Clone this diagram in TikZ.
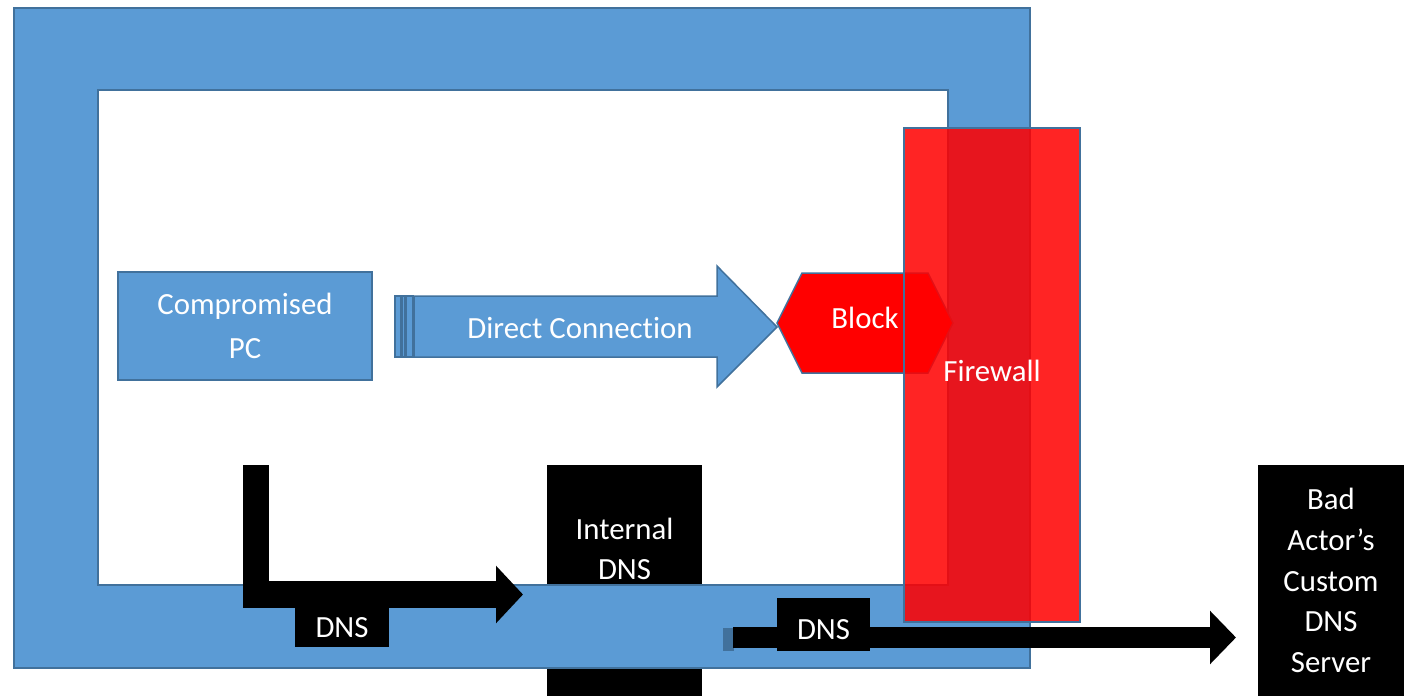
\documentclass[tikz,border=0pt]{standalone}
\usepackage{fontspec}
\setmainfont[Ligatures=NoCommon]{Carlito}
\usetikzlibrary{arrows.meta,calc,positioning}
\definecolor{netblue}{HTML}{5B9BD5}
\definecolor{netedge}{HTML}{41719C}
\begin{document}
\begin{tikzpicture}[x=0.5pt,y=-0.5pt,line join=miter]
      \useasboundingbox (0,0) rectangle (1404,696);

      \tikzstyle{lbl}=[text=white, font=\fontsize{15.4}{20}\selectfont, align=center, inner sep=0pt, outer sep=0pt];
      \tikzstyle{blackbox}=[fill=black, draw=none, inner sep=0pt, outer sep=0pt];
      \tikzstyle{bluepart}=[fill=netblue, draw=netedge, line width=0.75pt];
      \tikzstyle{dnsflow}=[draw=black, line cap=butt, line join=miter];

      % internal dns server, behind the network frame
      \node[blackbox, minimum width=77.5pt, minimum height=115.5pt] (intdns) at (624.5,580.5) {};

      % network frame
      \draw[bluepart, even odd rule] (14,8) rectangle (1030,668) (98,90) rectangle (948,585);

      \node[bluepart, lbl, minimum width=127pt, minimum height=54pt,
            font=\fontsize{15.4}{22}\selectfont] (pc) at (245,326) {Compromised\\PC};

      % direct connection arrow
      \draw[bluepart] (395,296) rectangle (401,357);
      \draw[bluepart] (402,296) rectangle (405,357);
      \draw[bluepart] (406,296) rectangle (413,357);
      \draw[bluepart] (414,296) -- (717,296) -- (717,266) -- (777,327) -- (717,387) -- (717,357) -- (414,357) -- cycle;
      \node[lbl] (direct) at (580,328) {Direct Connection};

      \draw[fill=red, draw=netedge, line width=0.75pt] (777,323) -- (802,273) -- (928,273) -- (953,323) -- (928,373) -- (802,373) -- cycle;
      \node[lbl] (block) at (865,318) {Block};

      % firewall
      \node[draw=netedge, line width=0.75pt, fill=red, fill opacity=0.86, inner sep=0pt,
            minimum width=88pt, minimum height=247pt] (fwall) at (992,375) {};
      \node[lbl] (fwText) at (992,371) {Firewall};

      \node[lbl] (intdnsText) at (624.5,549) {Internal\\DNS};

      % dns traffic
      \coordinate (q1) at (256,465);
      \coordinate (q2) at (256,594.5);
      \coordinate (q3) at (523,594.5);
      \draw[dnsflow, line width=13.25pt, -{Triangle[width=28pt,length=13.5pt]}] (q1) -- (q2) -- (q3);
      \node[blackbox, lbl, minimum width=47pt, minimum height=19.5pt] (dnsA) at (342,627.5) {DNS};

      \fill[netedge] (723,628) rectangle (734,651);
      \coordinate (r1) at (733,637.5);
      \coordinate (r2) at (1236,637.5);
      \node[blackbox, minimum width=46.5pt, minimum height=26.5pt] (dnsB) at (823.5,624.5) {};
      \draw[dnsflow, line width=10.5pt, -{Triangle[width=26pt,length=13pt]}] (r1) -- (r2);
      \node[lbl] (dnsBText) at ([yshift=-2.5pt]dnsB.center) {DNS};

      \node[blackbox, lbl, minimum width=73pt, minimum height=115.5pt,
            font=\fontsize{15.4}{20.3}\selectfont] (bad) at (1331,580.5) {Bad\\Actor’s\\Custom\\DNS\\Server};
\end{tikzpicture}
\end{document}
